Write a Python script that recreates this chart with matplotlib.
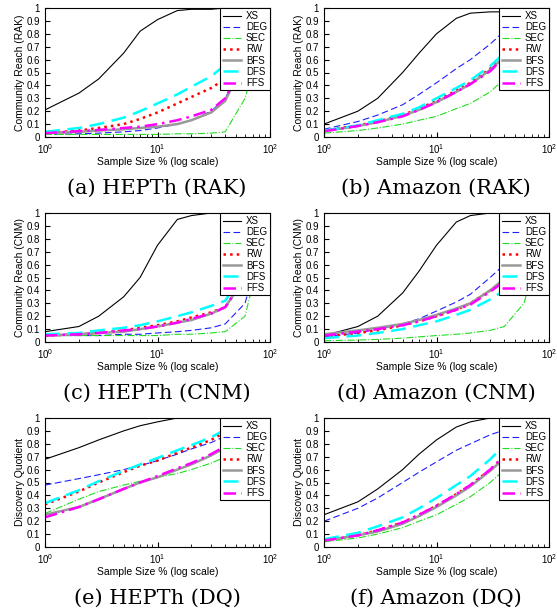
import matplotlib
matplotlib.use('Agg')
import matplotlib.pyplot as plt
import numpy as np

plt.rcParams['font.family'] = 'Liberation Sans'

# x positions (sample size %)
x_full = [1, 2, 3, 5, 7, 10, 15, 20, 30, 40, 60, 100]
x_dq = [1, 2, 3, 5, 7, 10, 15, 20, 30, 38]

names = ['XS', 'DEG', 'SEC', 'RW', 'BFS', 'DFS', 'FFS']

#(a) HEPTh RAK
hepth_rak = {
    'XS':  [0.21, 0.34, 0.45, 0.65, 0.82, 0.91, 0.98, 0.99, 0.99, 1, 1, 1],
    'DEG': [0.02, 0.025, 0.03, 0.04, 0.05, 0.07, 0.1, 0.13, 0.2, 0.3, 0.6, 1],
    'SEC': [0.02, 0.02, 0.02, 0.02, 0.02, 0.02, 0.025, 0.025, 0.03, 0.04, 0.3, 1],
    'RW':  [0.03, 0.05, 0.07, 0.1, 0.14, 0.19, 0.26, 0.31, 0.38, 0.45, 0.7, 1],
    'BFS': [0.03, 0.04, 0.05, 0.06, 0.07, 0.08, 0.1, 0.13, 0.19, 0.28, 0.6, 1],
    'DFS': [0.04, 0.07, 0.1, 0.15, 0.2, 0.26, 0.33, 0.39, 0.47, 0.56, 0.8, 1],
    'FFS': [0.03, 0.045, 0.055, 0.07, 0.08, 0.1, 0.13, 0.16, 0.21, 0.3, 0.6, 1],
}
#(b) Amazon RAK
amazon_rak = {
    'XS':  [0.1, 0.2, 0.3, 0.5, 0.65, 0.8, 0.92, 0.96, 0.97, 0.97, 0.98, 1],
    'DEG': [0.06, 0.12, 0.17, 0.25, 0.33, 0.42, 0.53, 0.6, 0.72, 0.82, 0.9, 1],
    'SEC': [0.03, 0.05, 0.07, 0.1, 0.13, 0.16, 0.22, 0.26, 0.35, 0.45, 0.7, 1],
    'RW':  [0.05, 0.09, 0.12, 0.17, 0.22, 0.28, 0.36, 0.42, 0.53, 0.63, 0.8, 1],
    'BFS': [0.045, 0.085, 0.115, 0.165, 0.21, 0.27, 0.35, 0.41, 0.52, 0.62, 0.8, 1],
    'DFS': [0.05, 0.09, 0.13, 0.18, 0.23, 0.3, 0.38, 0.44, 0.55, 0.65, 0.8, 1],
    'FFS': [0.045, 0.085, 0.115, 0.16, 0.21, 0.27, 0.35, 0.41, 0.51, 0.62, 0.8, 1],
}
#(c) HEPTh CNM
hepth_cnm = {
    'XS':  [0.08, 0.12, 0.2, 0.35, 0.5, 0.75, 0.95, 0.98, 1, 1, 1, 1],
    'DEG': [0.05, 0.05, 0.05, 0.06, 0.06, 0.07, 0.08, 0.09, 0.11, 0.14, 0.3, 1],
    'SEC': [0.05, 0.05, 0.05, 0.05, 0.05, 0.05, 0.06, 0.06, 0.07, 0.08, 0.2, 1],
    'RW':  [0.05, 0.06, 0.07, 0.09, 0.11, 0.13, 0.16, 0.19, 0.23, 0.27, 0.5, 1],
    'BFS': [0.05, 0.06, 0.07, 0.08, 0.1, 0.12, 0.15, 0.17, 0.22, 0.27, 0.5, 1],
    'DFS': [0.06, 0.07, 0.09, 0.11, 0.13, 0.16, 0.2, 0.23, 0.28, 0.32, 0.55, 1],
    'FFS': [0.05, 0.06, 0.07, 0.09, 0.1, 0.12, 0.15, 0.18, 0.22, 0.27, 0.5, 1],
}
#(d) Amazon CNM
amazon_cnm = {
    'XS':  [0.05, 0.12, 0.2, 0.38, 0.55, 0.75, 0.93, 0.98, 1, 1, 1, 1],
    'DEG': [0.04, 0.07, 0.1, 0.14, 0.18, 0.24, 0.31, 0.37, 0.5, 0.6, 0.8, 1],
    'SEC': [0.01, 0.015, 0.02, 0.03, 0.04, 0.05, 0.06, 0.07, 0.09, 0.12, 0.3, 1],
    'RW':  [0.04, 0.07, 0.09, 0.13, 0.16, 0.2, 0.25, 0.3, 0.4, 0.48, 0.7, 1],
    'BFS': [0.06, 0.09, 0.11, 0.14, 0.17, 0.21, 0.26, 0.3, 0.4, 0.49, 0.7, 1],
    'DFS': [0.03, 0.05, 0.07, 0.1, 0.13, 0.16, 0.21, 0.25, 0.33, 0.4, 0.65, 1],
    'FFS': [0.05, 0.08, 0.1, 0.13, 0.16, 0.2, 0.25, 0.29, 0.39, 0.47, 0.7, 1],
}
#(e) HEPTh DQ
hepth_dq = {
    'XS':  [0.68, 0.77, 0.83, 0.9, 0.94, 0.97, 1, 1, 1, 1],
    'DEG': [0.48, 0.53, 0.56, 0.6, 0.63, 0.67, 0.72, 0.76, 0.81, 0.85],
    'SEC': [0.26, 0.37, 0.43, 0.48, 0.51, 0.54, 0.57, 0.6, 0.65, 0.69],
    'RW':  [0.33, 0.43, 0.5, 0.58, 0.63, 0.67, 0.73, 0.77, 0.83, 0.88],
    'BFS': [0.25, 0.31, 0.37, 0.45, 0.5, 0.54, 0.6, 0.64, 0.71, 0.76],
    'DFS': [0.34, 0.44, 0.51, 0.59, 0.64, 0.69, 0.75, 0.79, 0.85, 0.9],
    'FFS': [0.23, 0.31, 0.37, 0.45, 0.5, 0.55, 0.61, 0.65, 0.72, 0.77],
}
#(f) Amazon DQ
amazon_dq = {
    'XS':  [0.25, 0.35, 0.45, 0.6, 0.72, 0.83, 0.93, 0.97, 1, 1],
    'DEG': [0.2, 0.3, 0.38, 0.5, 0.58, 0.66, 0.75, 0.8, 0.87, 0.9],
    'SEC': [0.04, 0.07, 0.1, 0.15, 0.2, 0.25, 0.33, 0.39, 0.5, 0.58],
    'RW':  [0.05, 0.09, 0.13, 0.19, 0.25, 0.32, 0.41, 0.48, 0.6, 0.68],
    'BFS': [0.05, 0.09, 0.12, 0.18, 0.24, 0.31, 0.4, 0.47, 0.59, 0.67],
    'DFS': [0.06, 0.11, 0.16, 0.23, 0.3, 0.38, 0.48, 0.55, 0.68, 0.77],
    'FFS': [0.05, 0.09, 0.13, 0.19, 0.25, 0.32, 0.41, 0.48, 0.6, 0.69],
}

styles = {
    'XS':  dict(color='black', ls='-', lw=0.8),
    'DEG': dict(color='#1f1fff', ls=(0, (6, 3)), lw=0.8),
    'SEC': dict(color='#22dd22', ls='-.', lw=0.8),
    'RW':  dict(color='red', ls=':', lw=1.8),
    'BFS': dict(color='#999999', ls='-', lw=1.8),
    'DFS': dict(color='cyan', ls=(0, (6, 3)), lw=1.8),
    'FFS': dict(color='magenta', ls=(0, (5, 2, 1, 2)), lw=1.8),
}

panels = [
    (hepth_rak, x_full, 'Community Reach (RAK)', '(a) HEPTh (RAK)'),
    (amazon_rak, x_full, 'Community Reach (RAK)', '(b) Amazon (RAK)'),
    (hepth_cnm, x_full, 'Community Reach (CNM)', '(c) HEPTh (CNM)'),
    (amazon_cnm, x_full, 'Community Reach (CNM)', '(d) Amazon (CNM)'),
    (hepth_dq, x_dq, 'Discovery Quotient', '(e) HEPTh (DQ)'),
    (amazon_dq, x_dq, 'Discovery Quotient', '(f) Amazon (DQ)'),
]

fig = plt.figure(figsize=(5.57, 6.12), dpi=100)
W, H = 557., 612.
for i, (data, xs, ylab, cap) in enumerate(panels):
    r, c = divmod(i, 2)
    left = 45 + c * 279
    top = 8 + r * 205
    ax = fig.add_axes([left / W, 1 - (top + 129) / H, 225 / W, 129 / H])
    for n in names:
        ax.plot(xs, data[n], label=n, **styles[n])
    ax.set_xscale('log')
    ax.set_xlim(1, 100)
    ax.set_ylim(0, 1)
    ax.set_yticks(np.arange(0, 1.01, 0.1))
    ax.set_yticklabels(['0'] + ['%.1f' % v for v in np.arange(0.1, 0.95, 0.1)] + ['1'])
    ax.tick_params(labelsize=7, direction='in', which='both')
    ax.set_xlabel('Sample Size % (log scale)', fontsize=7.5, labelpad=1)
    ax.set_ylabel(ylab, fontsize=7.5, labelpad=1)
    leg = ax.legend(loc='upper right', fontsize=7, frameon=True, fancybox=False,
                    borderaxespad=0.05, handlelength=1.9, labelspacing=0.12,
                    borderpad=0.25, handletextpad=0.5)
    leg.get_frame().set_edgecolor('black')
    leg.get_frame().set_linewidth(0.8)
    leg.get_frame().set_alpha(1)
    fig.text((left + 112) / W, 1 - (top + 180) / H, cap, ha='center', va='center',
             fontsize=15, family='DejaVu Serif')

fig.savefig('out.png', dpi=100)
